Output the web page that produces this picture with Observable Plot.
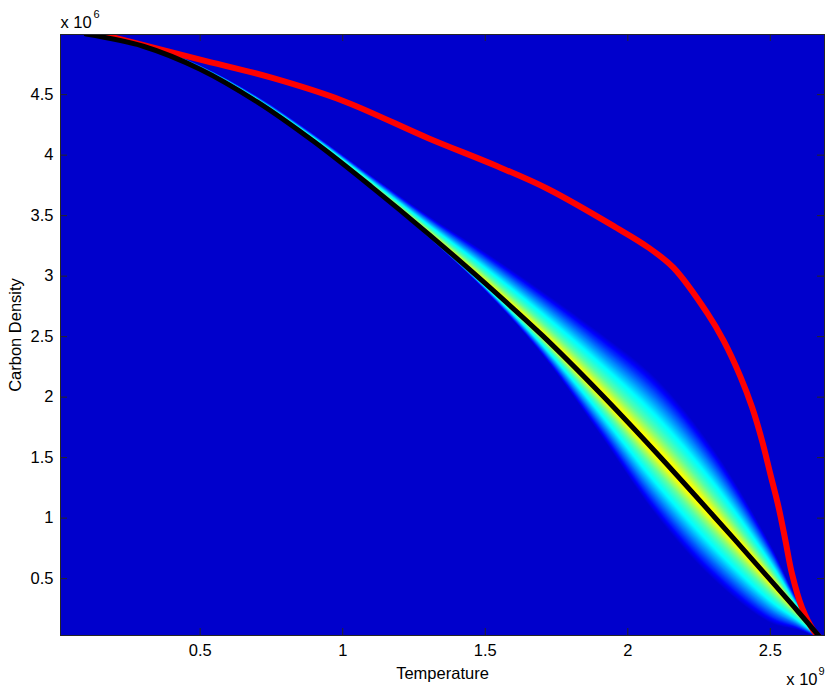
<!DOCTYPE html>
<html>
<head>
<meta charset="utf-8">
<script src="https://cdn.jsdelivr.net/npm/d3@7"></script>
<script src="https://cdn.jsdelivr.net/npm/@observablehq/plot@0.6"></script>
<style>
  body { margin: 0; background: #ffffff; }
  #chart svg { display: block; }
</style>
</head>
<body>
<div id="chart"></div>
<script>
// ---- Data (Temperature in units of 1e9, Carbon Density in units of 1e6) ----
const temperature = [0.10, 0.30, 0.50, 0.70, 0.90, 1.10, 1.30, 1.50, 1.70, 1.90, 2.10, 2.30, 2.50, 2.60, 2.68];
const densityMean = [5.00, 4.90, 4.71, 4.44, 4.11, 3.74, 3.35, 2.94, 2.51, 2.04, 1.54, 1.02, 0.49, 0.22, 0.00];
const spreadAbove = [0.00, 0.02, 0.03, 0.045, 0.06, 0.09, 0.15, 0.26, 0.37, 0.50, 0.62, 0.56, 0.30, 0.08, 0.00];
const spreadBelow = [0.00, 0.00, 0.005, 0.01, 0.015, 0.02, 0.03, 0.06, 0.16, 0.34, 0.52, 0.53, 0.36, 0.15, 0.00];

const redTemperature = [0.15, 0.50, 0.75, 1.00, 1.30, 1.54, 1.72, 1.96, 2.07, 2.16, 2.28, 2.336, 2.395, 2.436, 2.471, 2.50, 2.529, 2.553, 2.576, 2.611, 2.652, 2.68];
const redDensity     = [5.00, 4.79, 4.64, 4.45, 4.14, 3.91, 3.72, 3.40, 3.24, 3.07, 2.69, 2.467, 2.17, 1.916, 1.64, 1.365, 1.09, 0.814, 0.54, 0.26, 0.07, 0.00];

// density colour profile across the band (0 = centre, 1 = outer edge), as jet colormap values
const profileU = [1.00, 0.90, 0.80, 0.70, 0.60, 0.50, 0.40, 0.30, 0.20, 0.10, 0.00];
const profileV = [0.075, 0.13, 0.19, 0.25, 0.31, 0.37, 0.41, 0.46, 0.53, 0.61, 0.66];

const xTicks = [0.5, 1, 1.5, 2, 2.5];
const xTickLabels = ["0.5", "1", "1.5", "2", "2.5"];
const yTicks = [0.5, 1, 1.5, 2, 2.5, 3, 3.5, 4, 4.5];
const yTickLabels = ["0.5", "1", "1.5", "2", "2.5", "3", "3.5", "4", "4.5"];
const xDomain = [0.01, 2.69];
const yDomain = [0.03, 4.997];

const xLabel = "Temperature";
const yLabel = "Carbon Density";
const xExponentBase = "x 10", xExponent = "9";
const yExponentBase = "x 10", yExponent = "6";

// ---- Build tables ----
const jet = d3.scaleLinear()
  .domain([0, 0.125, 0.375, 0.625, 0.875, 1])
  .range(["#000080", "#0000ff", "#00ffff", "#ffff00", "#ff0000", "#800000"])
  .interpolate(d3.interpolateRgb)
  .clamp(true);

const profile = d3.scaleLinear(profileU, profileV);
const nLevels = 60;
const bandRows = [];
for (let k = 1; k < nLevels; k++) {
  const u = 1 - k / nLevels;
  const v = profile(u);
  temperature.forEach((t, i) => {
    bandRows.push({
      T: t,
      lo: densityMean[i] - spreadBelow[i] * u,
      hi: densityMean[i] + spreadAbove[i] * u,
      v, level: k
    });
  });
}
const meanRows = temperature.map((t, i) => ({T: t, rho: densityMean[i]}));
const redRows = redTemperature.map((t, i) => ({T: t, rho: redDensity[i]}));

const W = 830, H = 688, mL = 60, mR = 6, mT = 34, mB = 53;
const innerW = W - mL - mR, innerH = H - mT - mB;
const tickLen = 7;
const axisColor = "#262626";
const fs = 16.5;

const chart = Plot.plot({
  width: W, height: H,
  marginLeft: mL, marginRight: mR, marginTop: mT, marginBottom: mB,
  style: {fontFamily: "'Liberation Sans', Arial, Helvetica, sans-serif", fontSize: fs + "px", background: "#ffffff", color: "#000000"},
  x: {domain: xDomain, label: null},
  y: {domain: yDomain, label: null},
  color: {type: "linear", domain: [0, 1], interpolate: jet},
  marks: [
    Plot.frame({fill: jet(0.075)}),
    Plot.areaY(bandRows, {x: "T", y1: "lo", y2: "hi", z: "level", fill: "v", curve: "catmull-rom", clip: true}),
    Plot.line(redRows, {x: "T", y: "rho", stroke: "#ff0000", strokeWidth: 6, curve: "catmull-rom", strokeLinejoin: "round", clip: true}),
    Plot.line(meanRows, {x: "T", y: "rho", stroke: "#000000", strokeWidth: 5, curve: "catmull-rom", strokeLinejoin: "round", clip: true}),
    // inward ticks on all four sides
    Plot.ruleX(xTicks, {insetTop: innerH - tickLen, stroke: axisColor}),
    Plot.ruleX(xTicks, {insetBottom: innerH - tickLen, stroke: axisColor}),
    Plot.ruleY(yTicks, {insetRight: innerW - tickLen, stroke: axisColor}),
    Plot.ruleY(yTicks, {insetLeft: innerW - tickLen, stroke: axisColor}),
    Plot.frame({stroke: axisColor, strokeWidth: 1}),
    Plot.axisX({ticks: xTicks, tickSize: 0, tickPadding: 9, fontSize: fs, label: null,
      tickFormat: d => xTickLabels[xTicks.indexOf(d)]}),
    Plot.axisY({ticks: yTicks, tickSize: 0, tickPadding: 7, fontSize: fs, label: null,
      tickFormat: d => yTickLabels[yTicks.indexOf(d)]}),
    Plot.text([xLabel], {text: d => d, frameAnchor: "bottom", textAnchor: "middle", lineAnchor: "middle", dy: 38, fontSize: fs}),
    Plot.text([yLabel], {text: d => d, frameAnchor: "left", textAnchor: "middle", lineAnchor: "middle", dx: -45, rotate: -90, fontSize: fs}),
    Plot.text([yExponentBase], {text: d => d, frameAnchor: "top-left", textAnchor: "start", lineAnchor: "middle", dy: -12, fontSize: fs}),
    Plot.text([yExponent], {text: d => d, frameAnchor: "top-left", textAnchor: "start", lineAnchor: "middle", dx: 33, dy: -20, fontSize: 11}),
    Plot.text([xExponentBase], {text: d => d, frameAnchor: "bottom-right", textAnchor: "end", lineAnchor: "middle", dx: -7, dy: 44, fontSize: fs}),
    Plot.text([xExponent], {text: d => d, frameAnchor: "bottom-right", textAnchor: "start", lineAnchor: "middle", dx: -6, dy: 36, fontSize: 11})
  ]
});
document.getElementById("chart").appendChild(chart);
</script>
</body>
</html>
